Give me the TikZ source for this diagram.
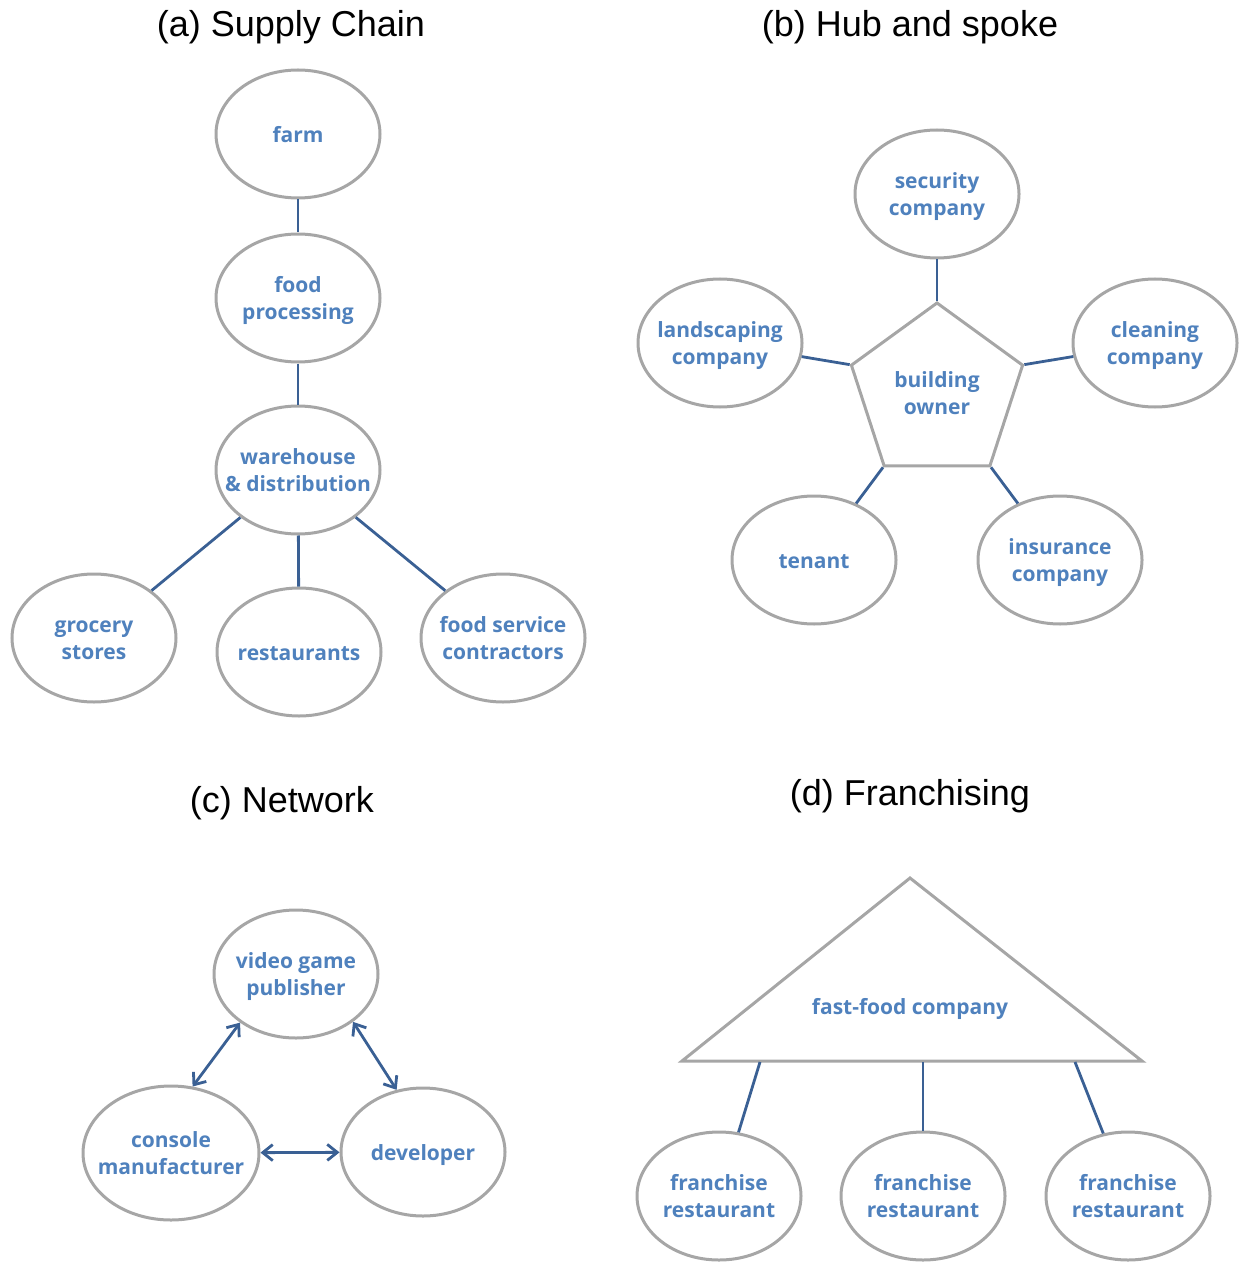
\documentclass[tikz,border=0pt]{standalone}
\usepackage{fontspec}
\setmainfont{Liberation Sans}
\newfontfamily\nodefont{Open Sans}
\usetikzlibrary{shapes.geometric,arrows.meta}
\definecolor{rimgray}{RGB}{166,166,166}
\definecolor{textblue}{RGB}{79,129,189}
\definecolor{linkblue}{RGB}{58,96,148}
%% centred lines that do not widen the shape
\newcommand{\inbox}[1]{\raisebox{-1.5pt}[\height][\depth]{\makebox[0pt]{\begin{tabular}{@{}c@{}}#1\end{tabular}}}}

\begin{document}
\begin{tikzpicture}
[x=0.5pt,y=-0.5pt,
  nodeText/.style={text=textblue,font=\nodefont\bfseries\fontsize{10.5}{13.5}\selectfont},%
  ellipseDecorate/.style={shape=ellipse,draw=rimgray,line width=1.5pt,fill=white,
    minimum width=82pt,minimum height=64pt,inner sep=0pt,nodeText},%
  hubDecorate/.style={shape=regular polygon,regular polygon sides=5,draw=rimgray,
    line width=1.5pt,minimum size=90pt,inner sep=0pt,nodeText},%
  triDecorate/.style={draw=rimgray,line width=1.5pt,line join=miter},%
  titleDecorate/.style={font=\fontsize{18}{22}\selectfont},%
  lineDecorate/.style={-,draw=linkblue,line width=1.4pt},%
  arrowDecorate/.style={<->,>={Straight Barb[length=5pt,width=8pt]},draw=linkblue,line width=1.4pt}]
\useasboundingbox (0,0) rectangle (1239,1262);
%% titles
\foreach \nodename/\x/\y/\txt in {
  titleA/291/27/(a) Supply Chain, titleB/910/27/(b) Hub and spoke,
  titleC/282/803/(c) Network, titleD/910/796/(d) Franchising}
{
  \node (\nodename) at (\x,\y) [titleDecorate] {\txt};
}
%% ellipses
\foreach \nodename/\x/\y/\txt in {
  %% supply chain
  farm/298/134/farm, processing/298/298/{food\\processing},
  warehouse/298/470/{warehouse\\\& distribution}, grocery/94/638/{grocery\\stores},
  restaurants/299/652/restaurants, contractors/503/638/{food service\\contractors},
  %% hub and spoke
  security/937/194/{security\\company}, landscaping/720/343/{landscaping\\company},
  cleaning/1155/343/{cleaning\\company}, tenant/814/560/tenant,
  insurance/1060/560/{insurance\\company},
  %% network
  publisher/296/974/{video game\\publisher}, developer/423/1152/developer,
  %% franchising
  franchiseA/719/1196/{franchise\\restaurant}, franchiseB/923/1196/{franchise\\restaurant},
  franchiseC/1128/1196/{franchise\\restaurant}}
{
  \node (\nodename) at (\x,\y) [ellipseDecorate] {\inbox{\txt}};
}
\node (console) at (171,1153) [ellipseDecorate,minimum width=88pt,minimum height=67pt]
  {\inbox{console\\manufacturer}};
%% hub
\node (owner) at (937,393) [hubDecorate] {\inbox{building\\owner}};
%% franchise triangle
\draw[triDecorate] (910,878) -- (1142,1061) -- (682,1061) -- cycle;
\node (fastfood) at (910,1009) [nodeText] {fast-food company};
\coordinate (baseA) at (760,1062);
\coordinate (baseB) at (923,1062);
\coordinate (baseC) at (1075,1062);
%% edges or lines
\path
\foreach \startnode/\endnode in {farm/processing, processing/warehouse,
  warehouse/grocery, warehouse/restaurants, warehouse/contractors,
  owner.corner 1/security, owner.corner 2/landscaping, owner.corner 5/cleaning,
  owner.corner 3/tenant, owner.corner 4/insurance,
  baseA/franchiseA, baseB/franchiseB, baseC/franchiseC}
{
  (\startnode) edge[lineDecorate] (\endnode)
};
%% two-way arrows
\path
\foreach \startnode/\endnode in {publisher.221/console.72, publisher.320/developer.113,
  console/developer}
{
  (\startnode) edge[arrowDecorate] (\endnode)
};
\end{tikzpicture}
\end{document}
